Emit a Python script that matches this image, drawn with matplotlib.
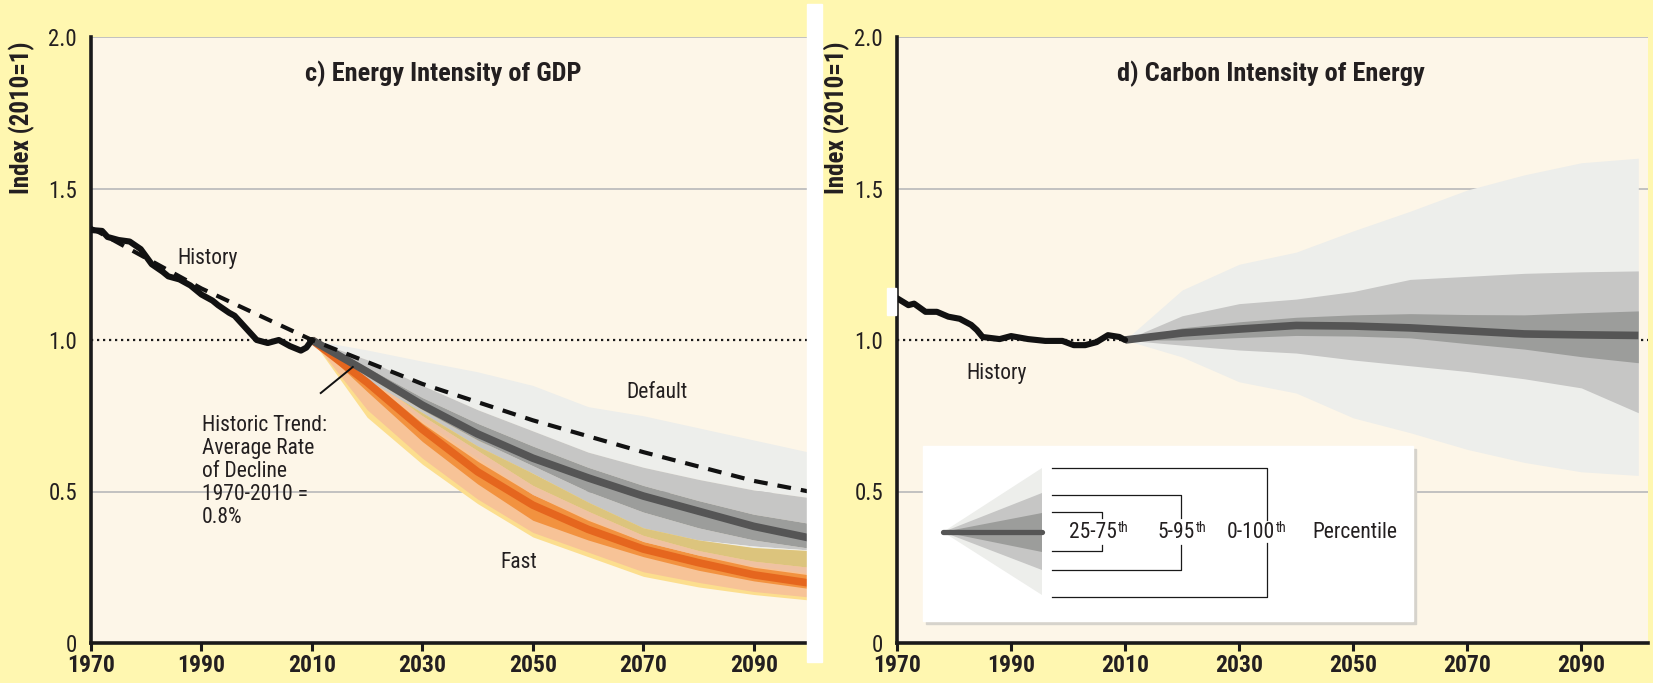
import numpy as np
import matplotlib
matplotlib.use("Agg")
import matplotlib.pyplot as plt
from matplotlib import font_manager as fm
from matplotlib.patches import Rectangle, Polygon

# pick a narrow face if one is installed, else Lato
names = {f.name for f in fm.fontManager.ttflist}
narrow = [n for n in ['Liberation Sans Narrow', 'Roboto Condensed', 'Open Sans Condensed',
                      'DejaVu Sans Condensed'] if n in names]
if narrow:
    FONT, fs = narrow[0], {'ann': 15.5, 'ytick': 16.5, 'xtick': 17, 'ylab': 18, 'title': 19, 'sup': 10}
else:
    FONT, fs = 'Lato', {'ann': 14, 'ytick': 15, 'xtick': 15, 'ylab': 16.5, 'title': 17.5, 'sup': 9}
plt.rcParams['font.family'] = [FONT, 'DejaVu Sans']

# ---- data ----
xticks = [1970, 1990, 2010, 2030, 2050, 2070, 2090]
yticks = [0, 0.5, 1.0, 1.5, 2.0]
ytick_labels = ['0', '0.5', '1.0', '1.5', '2.0']

# c) energy intensity history
c_hist_years = [1970, 1972, 1973, 1975, 1977, 1979, 1981, 1983, 1984, 1986, 1988, 1990,
                1992, 1993, 1995, 1996, 1998, 2000, 2002, 2004, 2006, 2008, 2009, 2010]
c_hist_vals = [1.363, 1.36, 1.34, 1.33, 1.325, 1.30, 1.25, 1.225, 1.21, 1.20, 1.18, 1.15,
               1.13, 1.115, 1.09, 1.08, 1.04, 1.00, 0.99, 1.00, 0.98, 0.965, 0.975, 1.0]

# historic trend (0.8%/yr), dashed
trend_years = [1970, 1990, 2010, 2030, 2050, 2070, 2090, 2100]
trend_vals = [1.37, 1.17, 1.0, 0.855, 0.735, 0.63, 0.535, 0.50]

proj_years = [2010, 2020, 2030, 2040, 2050, 2060, 2070, 2080, 2090, 2100]

# Default scenarios (percentiles)
def_max = [1.0, 0.967, 0.93, 0.895, 0.85, 0.78, 0.75, 0.71, 0.67, 0.63]
def_p95 = [1.0, 0.935, 0.85, 0.77, 0.70, 0.63, 0.58, 0.54, 0.505, 0.48]
def_p75 = [1.0, 0.91, 0.81, 0.725, 0.65, 0.58, 0.52, 0.47, 0.425, 0.395]
def_med = [1.0, 0.895, 0.785, 0.69, 0.61, 0.545, 0.485, 0.435, 0.385, 0.347]
def_p25 = [1.0, 0.88, 0.77, 0.67, 0.585, 0.50, 0.432, 0.38, 0.34, 0.313]
def_p5 = [1.0, 0.87, 0.76, 0.65, 0.56, 0.465, 0.38, 0.34, 0.32, 0.307]
def_min = [1.0, 0.865, 0.735, 0.61, 0.49, 0.41, 0.33, 0.285, 0.255, 0.23]

# Fast scenarios (percentiles)
fast_max = [1.0, 0.89, 0.78, 0.675, 0.56, 0.47, 0.385, 0.34, 0.315, 0.305]
fast_p95 = [1.0, 0.885, 0.75, 0.635, 0.52, 0.435, 0.355, 0.305, 0.27, 0.25]
fast_p75 = [1.0, 0.875, 0.725, 0.60, 0.49, 0.405, 0.335, 0.29, 0.25, 0.225]
fast_med = [1.0, 0.86, 0.705, 0.565, 0.455, 0.375, 0.31, 0.265, 0.225, 0.198]
fast_p25 = [1.0, 0.83, 0.665, 0.525, 0.405, 0.34, 0.285, 0.24, 0.205, 0.18]
fast_p5 = [1.0, 0.77, 0.61, 0.475, 0.365, 0.30, 0.235, 0.20, 0.17, 0.152]
fast_min = [1.0, 0.745, 0.59, 0.46, 0.35, 0.285, 0.22, 0.185, 0.16, 0.142]

# d) carbon intensity history
d_hist_years = [1970, 1972, 1973, 1975, 1977, 1979, 1981, 1983, 1984, 1985, 1988, 1990,
                1993, 1996, 1999, 2001, 2003, 2005, 2007, 2009, 2010]
d_hist_vals = [1.138, 1.115, 1.12, 1.093, 1.093, 1.077, 1.07, 1.05, 1.033, 1.01, 1.003, 1.013,
               1.003, 0.997, 0.997, 0.983, 0.983, 0.993, 1.016, 1.01, 1.0]

carb_max = [1.0, 1.165, 1.25, 1.29, 1.36, 1.425, 1.495, 1.545, 1.585, 1.60]
carb_p95 = [1.0, 1.08, 1.12, 1.135, 1.16, 1.20, 1.21, 1.22, 1.225, 1.228]
carb_p75 = [1.0, 1.04, 1.06, 1.075, 1.083, 1.087, 1.084, 1.083, 1.09, 1.096]
carb_med = [1.0, 1.023, 1.036, 1.048, 1.046, 1.04, 1.03, 1.02, 1.017, 1.015]
carb_p25 = [1.0, 1.0, 1.008, 1.015, 1.013, 1.007, 0.988, 0.97, 0.945, 0.925]
carb_p5 = [1.0, 0.983, 0.967, 0.957, 0.934, 0.915, 0.896, 0.872, 0.842, 0.76]
carb_min = [1.0, 0.944, 0.862, 0.825, 0.743, 0.694, 0.639, 0.596, 0.565, 0.553]

# ---- colours ----
YELLOW_BG = '#FFF7B0'
CREAM = '#FDF6E8'
TXT = '#231F20'
G_LIGHT = '#EDEEEB'
G_MID = '#C6C6C5'
G_DARK = '#9C9D9B'
G_MED = '#555555'
F_YEL = '#FCDE8E'
F_PEACH = '#F7C397'
F_ORANGE = '#F2923F'
F_MED = '#E5661E'
TAN = '#DCC47D'
PINK = '#EFC2A2'

fig = plt.figure(figsize=(16.53, 6.83), dpi=100, facecolor=YELLOW_BG)
ax1 = fig.add_axes([91 / 1653, 40 / 683, 718 / 1653, 606 / 683])
ax2 = fig.add_axes([897 / 1653, 40 / 683, 751 / 1653, 606 / 683])


def style_axis(ax, xmax, ylab_x):
    ax.set_facecolor(CREAM)
    ax.set_xlim(1970, xmax)
    ax.set_ylim(0, 2.0)
    ax.set_xticks(xticks)
    ax.set_xticklabels([str(t) for t in xticks], fontweight='bold', fontsize=fs['xtick'], color=TXT)
    ax.set_yticks(yticks)
    ax.set_yticklabels(ytick_labels, fontsize=fs['ytick'], color=TXT)
    ax.tick_params(axis='x', direction='out', length=6, width=2.2, pad=2, color='#1a1a1a')
    ax.tick_params(axis='y', length=0, pad=10)
    for s in ['top', 'right']:
        ax.spines[s].set_visible(False)
    for s in ['left', 'bottom']:
        ax.spines[s].set_linewidth(2.6)
        ax.spines[s].set_color('#1a1a1a')
    for v in [0.5, 1.5, 2.0]:
        ax.axhline(v, color='#BDBDBD', lw=1.3, zorder=0.5)
    ax.axhline(1.0, color='#1a1a1a', lw=1.6, ls=(0, (1, 1.7)), zorder=0.6)
    ax.text(ylab_x, 0.866, 'Index (2010=1)', transform=ax.transAxes, rotation=90,
            ha='center', va='center', fontsize=fs['ylab'], fontweight='bold', color=TXT)


style_axis(ax1, 2100, -0.096)
style_axis(ax2, 2101.7, -0.080)

x = np.array(proj_years)

# ---- panel c ----
# fast bands
ax1.fill_between(x, fast_min, fast_max, color=F_YEL, lw=0, zorder=2)
ax1.fill_between(x, fast_p5, fast_p95, color=F_PEACH, lw=0, zorder=2.1)
ax1.fill_between(x, fast_p25, fast_p75, color=F_ORANGE, lw=0, zorder=2.2)

# default bands
ax1.fill_between(x, def_p95, def_max, color=G_LIGHT, lw=0, zorder=3)
ax1.fill_between(x, def_p75, def_p95, color=G_MID, lw=0, zorder=3)
ax1.fill_between(x, def_p5, def_p25, color=G_MID, lw=0, zorder=3)
ax1.fill_between(x, def_p25, def_p75, color=G_DARK, lw=0, zorder=3)

# lower part of the default range, tinted where it overlaps the fast range
lo = np.array(def_min)
hi = np.array(def_p5)
fmax = np.array(fast_max)
f95 = np.array(fast_p95)
f75 = np.array(fast_p75)
b = np.maximum(lo, fmax)
ax1.fill_between(x, b, hi, where=hi > b, interpolate=True, color=G_LIGHT, lw=0, zorder=3)
b, t = np.maximum(lo, f95), np.minimum(hi, fmax)
ax1.fill_between(x, b, t, where=t > b, interpolate=True, color=TAN, lw=0, zorder=3)
b, t = np.maximum(lo, f75), np.minimum(hi, f95)
ax1.fill_between(x, b, t, where=t > b, interpolate=True, color=PINK, lw=0, zorder=3)

ax1.plot(x, fast_med, color=F_MED, lw=5.5, zorder=4, solid_capstyle='butt')
ax1.plot(x, def_med, color=G_MED, lw=5.5, zorder=4, solid_capstyle='butt')

ax1.plot(trend_years, trend_vals, color='#111111', lw=3, ls=(0, (3.3, 2.4)), zorder=5)
ax1.plot(c_hist_years, c_hist_vals, color='#111111', lw=4.4, zorder=6,
         solid_joinstyle='round', solid_capstyle='round')

ax1.plot([2011.6, 2017.4], [0.825, 0.911], color='#111111', lw=1.4, zorder=7)

ax1.text(0.49, 0.94, 'c) Energy Intensity of GDP', transform=ax1.transAxes,
         ha='center', va='center', fontsize=fs['title'], fontweight='bold', color=TXT)
ax1.text(1985.6, 1.27, 'History', fontsize=fs['ann'], color=TXT, va='center')
ax1.text(1990.1, 0.565, 'Historic Trend:\nAverage Rate\nof Decline\n1970-2010 =\n0.8%',
         fontsize=fs['ann'], color=TXT, va='center', linespacing=1.12, zorder=8)
ax1.text(2072.4, 0.828, 'Default', fontsize=fs['ann'], color=TXT, ha='center', va='center', zorder=8)
ax1.text(2047.5, 0.267, 'Fast', fontsize=fs['ann'], color=TXT, ha='center', va='center', zorder=8)

# ---- panel d ----
ax2.fill_between(x, carb_min, carb_max, color=G_LIGHT, lw=0, zorder=2)
ax2.fill_between(x, carb_p5, carb_p95, color=G_MID, lw=0, zorder=2.1)
ax2.fill_between(x, carb_p25, carb_p75, color=G_DARK, lw=0, zorder=2.2)
ax2.plot(x, carb_med, color=G_MED, lw=5.5, zorder=4, solid_capstyle='butt')
ax2.plot(d_hist_years, d_hist_vals, color='#111111', lw=4.4, zorder=6,
         solid_joinstyle='round', solid_capstyle='round')

ax2.text(0.498, 0.94, 'd) Carbon Intensity of Energy', transform=ax2.transAxes,
         ha='center', va='center', fontsize=fs['title'], fontweight='bold', color=TXT)
ax2.text(1982.1, 0.89, 'History', fontsize=fs['ann'], color=TXT, va='center')

# ---- percentile key (pixel units inside the box) ----
lg = fig.add_axes([923 / 1653, (683 - 621) / 683, 490 / 1653, 175 / 683], zorder=5)
lg.set_xlim(0, 490)
lg.set_ylim(175, 0)
lg.axis('off')
lg.add_patch(Rectangle((3, 3), 490, 175, color='#D6D3CC', clip_on=False, zorder=0))
lg.add_patch(Rectangle((0, 0), 490, 175, color='white', clip_on=False, zorder=1))
apex, xr = (20, 86), 119
for (top, bot), col in zip([(22, 149), (47, 124), (67, 106)], [G_LIGHT, G_MID, G_DARK]):
    lg.add_patch(Polygon([apex, (xr, top), (xr, bot)], closed=True, color=col, lw=0, zorder=2))
lg.plot([20, 119], [86, 86], color=G_MED, lw=3.8, solid_capstyle='round', zorder=3)

brackets = [(66, 105, 179, 72, 99, 194, '25-75'), (49, 124, 258, 72, 99, 272, '5-95'),
            (22, 151, 344, 74, 97, 352, '0-100')]
for top, bot, xv, gap_top, gap_bot, xt, lab in brackets:
    lg.plot([129, xv, xv], [top, top, gap_top], color='#1a1a1a', lw=0.9, zorder=3)
    lg.plot([129, xv, xv], [bot, bot, gap_bot], color='#1a1a1a', lw=0.9, zorder=3)
    lg.text(xt, 87, lab, ha='right', va='center', fontsize=fs['ann'], color=TXT)
    lg.text(xt + 0.5, 75, 'th', ha='left', va='top', fontsize=fs['sup'], color=TXT)
lg.text(389, 87, 'Percentile', ha='left', va='center', fontsize=fs['ann'], color=TXT)

# white divider strip and small white mark
fig.add_artist(Rectangle((807 / 1653, (683 - 662) / 683), 15 / 1653, 658 / 683,
                         transform=fig.transFigure, color='white', zorder=10))
fig.add_artist(Rectangle((887 / 1653, (683 - 315) / 683), 9 / 1653, 27 / 683,
                         transform=fig.transFigure, color='white', zorder=10))

fig.savefig('out.png', dpi=100, facecolor=YELLOW_BG)
